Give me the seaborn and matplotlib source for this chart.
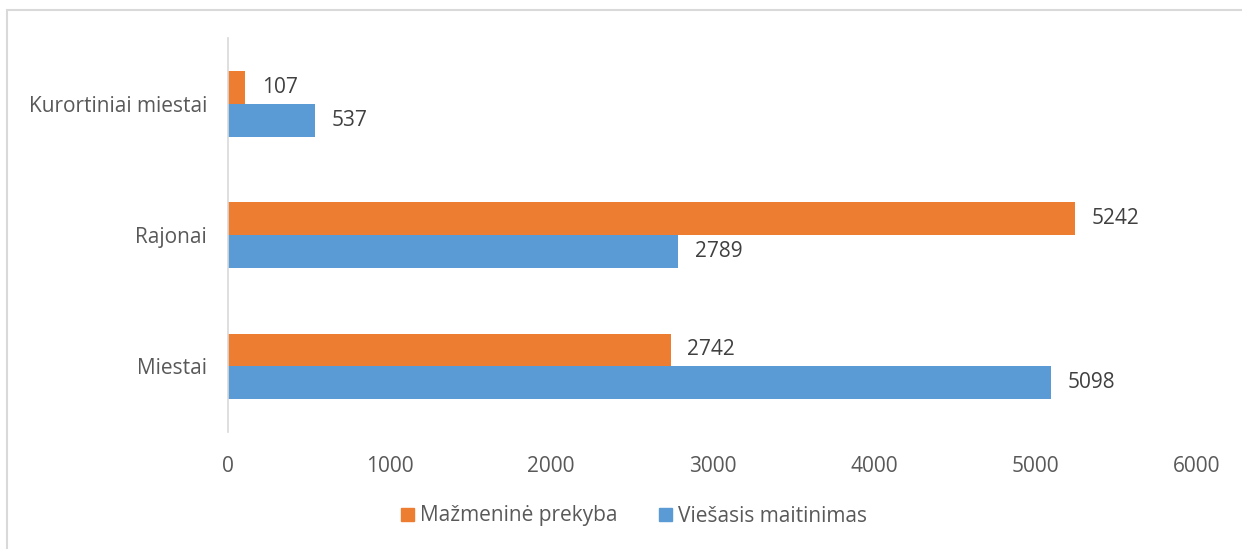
import numpy as np
import pandas as pd
import seaborn as sns
import matplotlib.pyplot as plt
from matplotlib.lines import Line2D

plt.switch_backend("Agg")

categories = ["Kurortiniai miestai", "Rajonai", "Miestai"]
series = ["Mažmeninė prekyba", "Viešasis maitinimas"]
retail = [107, 5242, 2742]
catering = [537, 2789, 5098]
colors = ["#ED7D31", "#5B9BD5"]

df = pd.DataFrame({
    "category": categories * 2,
    "series": [series[0]] * 3 + [series[1]] * 3,
    "value": retail + catering,
})

sns.set_style("white")
plt.rcParams["font.family"] = ["Open Sans", "DejaVu Sans"]

fig = plt.figure(figsize=(12.42, 5.49), dpi=100)
ax = fig.add_axes([228 / 1242, 1 - 432 / 549, (1197 - 228) / 1242, (432 - 38) / 549])

sns.barplot(data=df, x="value", y="category", hue="series", order=categories,
            hue_order=series, palette=colors, width=0.5, orient="h",
            saturation=1, linewidth=0, ax=ax, legend=False)

for cont in ax.containers:
    ax.bar_label(cont, labels=[f"{int(v)}" for v in cont.datavalues],
                 padding=12, fontsize=15, color="#404040")

ax.set_xlim(0, 6000)
ax.set_xticks(np.arange(0, 6001, 1000))
ax.set_xlabel("")
ax.set_ylabel("")
ax.tick_params(axis="both", length=0, labelsize=15, labelcolor="#595959")
ax.tick_params(axis="y", pad=15)
ax.tick_params(axis="x", pad=17)
for s in ["top", "right", "bottom"]:
    ax.spines[s].set_visible(False)
ax.spines["left"].set_color("#D9D9D9")
ax.spines["left"].set_linewidth(1.2)

handles = [plt.Rectangle((0, 0), 1, 1, color=c) for c in colors]
fig.legend(handles, series, loc="center", bbox_to_anchor=(634 / 1242, 1 - 516 / 549),
           ncol=2, frameon=False, fontsize=15, labelcolor="#595959",
           handlelength=0.6, handleheight=0.6, handletextpad=0.3, columnspacing=2.0)

# chart frame (only left and top edges are visible)
fig.add_artist(Line2D([7 / 1242, 7 / 1242], [0, 1 - 10 / 549], color="#D9D9D9", lw=1.5))
fig.add_artist(Line2D([7 / 1242, 1], [1 - 10 / 549, 1 - 10 / 549], color="#D9D9D9", lw=1.5))

fig.savefig("out.png", dpi=100)
